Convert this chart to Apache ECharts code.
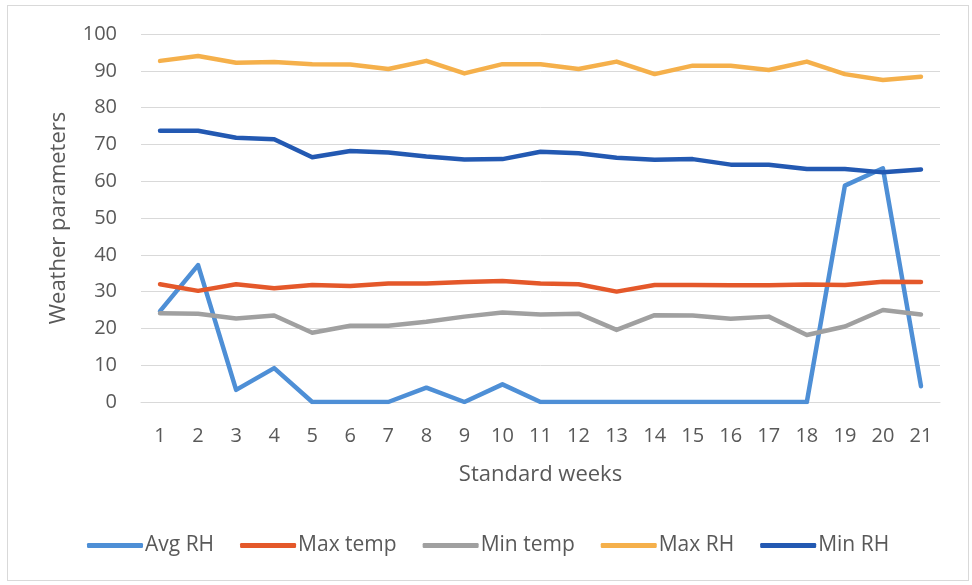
<!DOCTYPE html>
<html>
<head>
<meta charset="utf-8">
<script src="https://cdn.jsdelivr.net/npm/echarts@6/dist/echarts.min.js"></script>
<style>
html,body{margin:0;padding:0;background:#fff;}
#frame{position:absolute;left:7px;top:5px;width:962px;height:576px;border:1px solid #d9d9d9;box-sizing:border-box;}
#chart{position:absolute;left:0;top:0;width:972px;height:585px;}
</style>
</head>
<body>
<div id="frame"></div>
<div id="chart"></div>
<script>
const weeks = ['1','2','3','4','5','6','7','8','9','10','11','12','13','14','15','16','17','18','19','20','21'];
const avgRH   = [24.7, 37.2, 3.3, 9.2, 0, 0, 0, 3.9, 0, 4.8, 0, 0, 0, 0, 0, 0, 0, 0, 58.8, 63.5, 4.3];
const maxTemp = [32.0, 30.2, 32.0, 30.9, 31.8, 31.5, 32.2, 32.2, 32.6, 32.9, 32.2, 32.0, 30.0, 31.8, 31.8, 31.7, 31.7, 31.9, 31.8, 32.7, 32.6];
const minTemp = [24.1, 24.0, 22.7, 23.5, 18.8, 20.7, 20.7, 21.8, 23.2, 24.3, 23.8, 24.0, 19.6, 23.6, 23.5, 22.6, 23.2, 18.2, 20.5, 25.0, 23.8];
const maxRH   = [92.7, 94.0, 92.2, 92.4, 91.8, 91.7, 90.5, 92.7, 89.3, 91.8, 91.8, 90.5, 92.5, 89.1, 91.4, 91.4, 90.2, 92.5, 89.1, 87.5, 88.4];
const minRH   = [73.7, 73.7, 71.8, 71.4, 66.5, 68.2, 67.8, 66.7, 65.9, 66.0, 68.0, 67.6, 66.4, 65.8, 66.0, 64.5, 64.5, 63.3, 63.3, 62.4, 63.2];
const seriesNames = ['Avg RH', 'Max temp', 'Min temp', 'Max RH', 'Min RH'];
const seriesData = [avgRH, maxTemp, minTemp, maxRH, minRH];
const colors = ['#4E8FD6', '#E4582A', '#A0A0A0', '#F5B04B', '#2359B2'];
const yTicks = {min: 0, max: 100, interval: 10};

const chart = echarts.init(document.getElementById('chart'), null, {renderer: 'canvas'});
const font = '"Open Sans", sans-serif';
chart.setOption({
  animation: false,
  color: colors,
  textStyle: {fontFamily: font},
  grid: {left: 141, right: 32, top: 34, bottom: 183, containLabel: false},
  legend: {
    data: seriesNames,
    left: 82, top: 530,
    itemWidth: 56, itemHeight: 5, itemGap: 26,
    icon: 'roundRect',
    textStyle: {fontFamily: font, fontSize: 21, color: '#595959', padding: [0, 0, 0, -3]}
  },
  xAxis: {
    type: 'category',
    data: weeks,
    boundaryGap: true,
    axisLine: {show: true, lineStyle: {color: '#d9d9d9'}},
    axisTick: {show: false},
    axisLabel: {fontFamily: font, fontSize: 20, color: '#595959', margin: 24},
    name: 'Standard weeks',
    nameLocation: 'middle',
    nameGap: 62,
    nameTextStyle: {fontFamily: font, fontSize: 22, color: '#595959'}
  },
  yAxis: {
    type: 'value',
    min: yTicks.min, max: yTicks.max, interval: yTicks.interval,
    axisLine: {show: false},
    axisTick: {show: false},
    splitLine: {lineStyle: {color: '#d9d9d9', width: 1}},
    axisLabel: {fontFamily: font, fontSize: 20, color: '#595959', margin: 24},
    name: 'Weather parameters',
    nameLocation: 'middle',
    nameGap: 71,
    nameTextStyle: {fontFamily: font, fontSize: 22, color: '#595959'}
  },
  series: seriesNames.map((n, i) => ({
    name: n,
    type: 'line',
    data: seriesData[i],
    symbol: 'none',
    smooth: false,
    lineStyle: {width: 4.5, color: colors[i], cap: 'round', join: 'round'},
    itemStyle: {color: colors[i]}
  }))
});
</script>
</body>
</html>
